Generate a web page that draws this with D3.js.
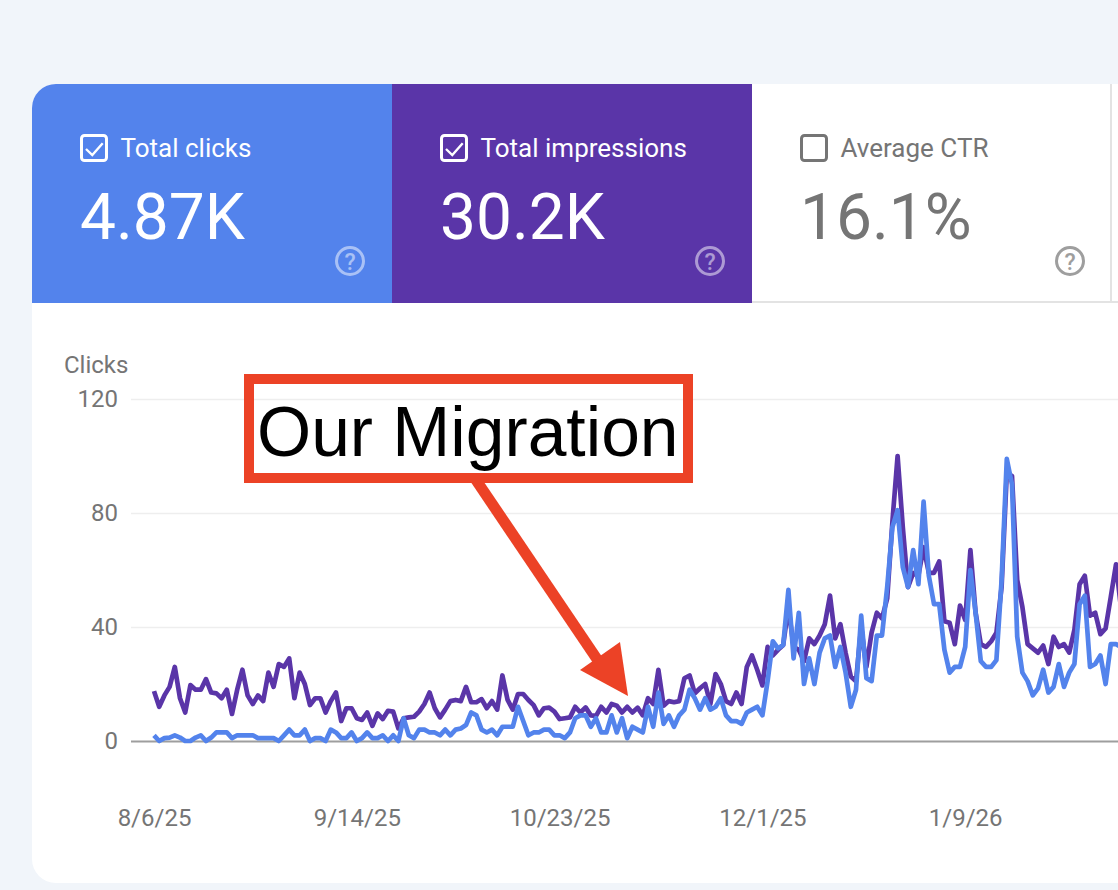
<!DOCTYPE html>
<html>
<head>
<meta charset="utf-8">
<script src="https://cdn.jsdelivr.net/npm/d3@7"></script>
<style>
  html, body { margin: 0; padding: 0; background: #f1f5fa; overflow: hidden; }
  text { font-family: Roboto, sans-serif; }
</style>
</head>
<body>
<div id="chart"></div>
<script>
// daily values starting 8/6/25
const clicks = [
  2,0,1,1.2,2,1.2,0,0,1.2,2,0,1.2,3,3,3,1,2,2,2,2,1,1,1,1,0,2,4,2,2,4,0,1,1,0,4,3,1,1,3,0,1,3,1,1,2,0,2,0,8,2,1,4,4,3,
  3,2,4,2,4,4.4,5.6,10,9,4,3,4,2,5,5,5,12,7,2,3,3,4,4,2,2,1,3,8,9,9,5,8,3,3,9,3,8,1,5,4,3,12,5,17,6,9,5,9,11,18,15,11,15,11,12,
  15,9,7,7,6,10,11,12,9,21,35,32.5,33.7,53,29,45,20,29,20,31,36,37,26,33,24,12,18,44,22,21,37,37,54,75,81,
  61,54,67,55,84,58,48,48,32,24,26,26,33,60,45,28,26,26,28.4,56.5,99,90,36.6,24,21,16,18.5,25,17,19,27,19,24,27,48,51,26,27,30,20,34,34,33
];
const impressions = [
  17.5,12,16,19,26,15,10,19.6,18,18,21.7,17,16.7,15,18,9.5,18,25,16,13,16,14,24,19,27,26,29,15,24,20,12.6,15,15,10,14,17,7,11.5,11.5,8,7.4,10,5.3,9.7,7.7,10.6,10.3,4.4,8,8.3,8.5,10.3,13,
  17,11.5,8.3,11,14,14.4,14,19,13.6,13.6,14.7,11.5,14,11,23,14.4,11,16.5,16.5,14.4,12.6,9,11.5,11.7,10.3,7.7,8,8.3,12,10,11.8,9,8.8,12,10,13,12.4,10,12,10,11.7,9,15,13,25,12.4,14,13.6,14,22,23,16.7,18.5,20,13,23.5,
  20,14,13,17,13,26,30,25,19.5,33,30,32,33.7,47,33,32,28,36,34,37,41,51,36,41,31,22.6,21,40,26,38,45,43,50,77,100,75,
  54,59,58,68,59,59,63,42,41.5,34,47.5,42.5,67,45,34,33,35,38,54,94,93,56.5,47,34,32.5,31,33.5,27,36.6,33,34,31,39,55,58,44,45,37.5,39.5,50.6,62,46
];
const startDate = new Date(2025, 7, 6);
const xTickDates = [new Date(2025, 7, 6), new Date(2025, 8, 14), new Date(2025, 9, 23), new Date(2025, 11, 1), new Date(2026, 0, 9)];
const yTicks = [0, 40, 80, 120];
const tiles = [
  { label: "Total clicks", value: "4.87K", checked: true },
  { label: "Total impressions", value: "30.2K", checked: true },
  { label: "Average CTR", value: "16.1%", checked: false }
];

const width = 1118, height = 890;
const blue = "#5383ec", purple = "#5a35a8", red = "#ec4226", gray = "#757575";

const svg = d3.select("#chart").append("svg")
  .attr("width", width)
  .attr("height", height)
  .style("display", "block");

// card
svg.append("path")
  .attr("fill", "#fff")
  .attr("d", "M32,108 a24,24 0 0 1 24,-24 H1130 V883 H56 a24,24 0 0 1 -24,-24 Z");

// tiles
const tileX = d3.scaleBand().domain(d3.range(tiles.length)).range([32, 1112]);

svg.append("path").attr("fill", blue)
  .attr("d", "M32,303 V108 a24,24 0 0 1 24,-24 H392 V303 Z");
svg.append("rect").attr("x", 392).attr("y", 84).attr("width", 360).attr("height", 219).attr("fill", purple);
svg.append("rect").attr("x", 752).attr("y", 301).attr("width", 366).attr("height", 2).attr("fill", "#e3e3e3");
svg.append("rect").attr("x", 1110).attr("y", 84).attr("width", 2).attr("height", 219).attr("fill", "#e3e3e3");

const tile = svg.selectAll(".tile")
  .data(tiles)
  .enter()
  .append("g")
  .attr("class", "tile")
  .attr("transform", (d, i) => `translate(${tileX(i)},84)`);

const tileColor = d => d.checked ? "#fff" : gray;

tile.append("rect")
  .attr("x", 49.5)
  .attr("y", 51.5)
  .attr("width", 25)
  .attr("height", 25)
  .attr("rx", 3)
  .attr("fill", "none")
  .attr("stroke", tileColor)
  .attr("stroke-width", 3);

tile.filter(d => d.checked).append("path")
  .attr("fill", "none")
  .attr("stroke", "#fff")
  .attr("stroke-width", 2.4)
  .attr("d", "M54,65 L60.3,71 L70.7,59.3");

tile.append("text")
  .attr("x", 88.5)
  .attr("y", 73)
  .attr("font-size", 26)
  .attr("fill", tileColor)
  .text(d => d.label);

tile.append("text")
  .attr("x", 48)
  .attr("y", 155)
  .attr("font-size", 64)
  .attr("fill", tileColor)
  .text(d => d.value);

// help icon
tile.append("circle")
  .attr("cx", 318)
  .attr("cy", 177)
  .attr("r", 13.5)
  .attr("fill", "none")
  .attr("stroke", d => d.checked ? "rgba(255,255,255,0.5)" : "#9e9e9e")
  .attr("stroke-width", 3);

tile.append("text")
  .attr("x", 318)
  .attr("y", 185.5)
  .attr("text-anchor", "middle")
  .attr("font-size", 23)
  .attr("font-weight", 500)
  .attr("fill", d => d.checked ? "rgba(255,255,255,0.5)" : "#9e9e9e")
  .text("?");

// scales
const x = d3.scaleTime()
  .domain([startDate, d3.timeDay.offset(startDate, 185)])
  .range([154, 1116]);

const y = d3.scaleLinear()
  .domain([0, 120])
  .range([741, 399]);

// axes
const yAxis = svg.append("g")
  .attr("transform", "translate(131,0)")
  .call(d3.axisLeft(y).tickValues(yTicks).tickSize(-(width - 131)).tickPadding(13));
yAxis.select(".domain").remove();
yAxis.selectAll("line").attr("stroke", d => d === 0 ? "#9e9e9e" : "#eeeeee").attr("stroke-width", d => d === 0 ? 2 : 1.5);
yAxis.selectAll("text").attr("fill", gray).attr("font-size", 24).attr("font-family", "Roboto, sans-serif");

const xAxis = svg.append("g")
  .attr("transform", "translate(0,741)")
  .call(d3.axisBottom(x).tickValues(xTickDates).tickSize(0).tickPadding(68).tickFormat(d3.timeFormat("%-m/%-d/%y")));
xAxis.select(".domain").remove();
xAxis.selectAll("text").attr("fill", gray).attr("font-size", 24).attr("font-family", "Roboto, sans-serif");

svg.append("text")
  .attr("x", 64)
  .attr("y", 373)
  .attr("font-size", 24)
  .attr("fill", gray)
  .text("Clicks");

// lines
const line = d3.line()
  .x((d, i) => x(d3.timeDay.offset(startDate, i)))
  .y(d => y(d));

svg.append("path")
  .datum(impressions)
  .attr("fill", "none")
  .attr("stroke", purple)
  .attr("stroke-width", 4.7)
  .attr("stroke-linejoin", "round")
  .attr("d", line);

svg.append("path")
  .datum(clicks)
  .attr("fill", "none")
  .attr("stroke", blue)
  .attr("stroke-width", 4.7)
  .attr("stroke-linejoin", "round")
  .attr("d", line);

// annotation
svg.append("path")
  .attr("fill", "none")
  .attr("stroke", red)
  .attr("stroke-width", 11)
  .attr("d", "M476,480 L603,668");

svg.append("path")
  .attr("fill", red)
  .attr("d", "M628,696 L580,670 L620,642 Z");

// box is see-through, the 120 gridline shows inside it
svg.append("rect")
  .attr("x", 249)
  .attr("y", 379)
  .attr("width", 439)
  .attr("height", 99)
  .attr("fill", "none")
  .attr("stroke", red)
  .attr("stroke-width", 10);

svg.append("text")
  .attr("x", 257)
  .attr("y", 456)
  .attr("font-size", 69.6)
  .attr("fill", "#000")
  .style("font-family", "'Liberation Sans', Arial, sans-serif")
  .text("Our Migration");
</script>
</body>
</html>
